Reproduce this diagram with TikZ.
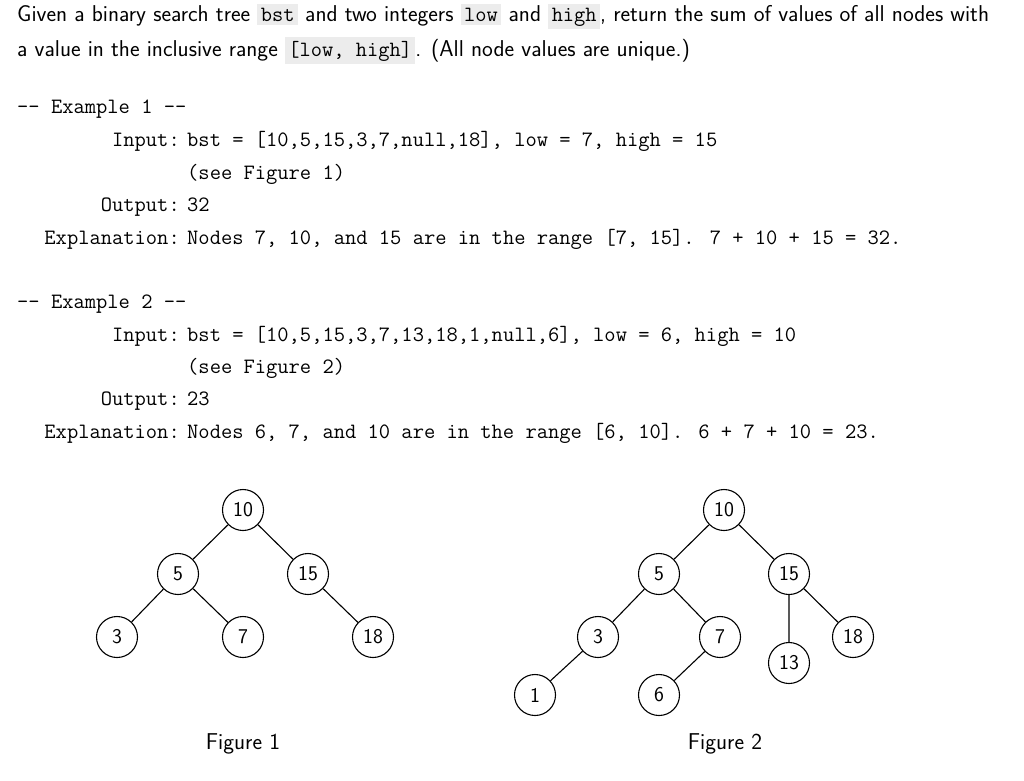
\documentclass[tikz,border=0pt]{standalone}
\usepackage{xcolor}
\definecolor{hlgray}{RGB}{236,236,236}
\newcommand{\hlc}[1]{{\setlength{\fboxsep}{3.5pt}\colorbox{hlgray}{\ttfamily\fontsize{21.8}{24}\selectfont #1}}}
\begin{document}
\begin{tikzpicture}[x=1pt,y=-1pt,
  txt/.style={anchor=base west,inner sep=0pt,font=\sffamily\fontsize{22.9}{26}\selectfont},
  mono/.style={anchor=base west,inner sep=0pt,font=\ttfamily\fontsize{21.9}{24}\selectfont},
  lab/.style={anchor=base east,inner sep=0pt,font=\ttfamily\fontsize{21.9}{24}\selectfont},
  tn/.style={circle,draw,line width=1.1pt,minimum size=41pt,inner sep=0pt,font=\sffamily\fontsize{21}{24}\selectfont},
  edge/.style={line width=1.1pt}]
\useasboundingbox (0,0) rectangle (1024,780);
\node[txt] (t1) at (17,21) {Given a binary search tree \hlc{bst} and two integers \hlc{low} and \hlc{high}, return the sum of values of all nodes with};
\node[txt] (t2) at (17,56) {a value in the inclusive range \hlc{[low, high]}. (All node values are unique.)};

\node[mono] (e1) at (17,113) {-- Example 1 --};
\node[lab] (i1) at (180,146) {Input:};
\node[mono] (i1v) at (187,146) {bst = [10,5,15,3,7,null,18], low = 7, high = 15};
\node[mono] (s1) at (187,179) {(see Figure 1)};
\node[lab] (o1) at (180,211) {Output:};
\node[mono] (o1v) at (187,211) {32};
\node[lab] (x1) at (180,244) {Explanation:};
\node[mono] (x1v) at (187,244) {Nodes 7, 10, and 15 are in the range [7, 15]. 7 + 10 + 15 = 32.};

\node[mono] (e2) at (17,308) {-- Example 2 --};
\node[lab] (i2) at (180,341) {Input:};
\node[mono] (i2v) at (187,341) {bst = [10,5,15,3,7,13,18,1,null,6], low = 6, high = 10};
\node[mono] (s2) at (187,373) {(see Figure 2)};
\node[lab] (o2) at (180,405) {Output:};
\node[mono] (o2v) at (187,405) {23};
\node[lab] (x2) at (180,438) {Explanation:};
\node[mono] (x2v) at (187,438) {Nodes 6, 7, and 10 are in the range [6, 10]. 6 + 7 + 10 = 23.};

% Figure 1
\node[tn] (a10) at (243,510) {10};
\node[tn] (a5) at (178,574) {5};
\node[tn] (a15) at (308,574) {15};
\node[tn] (a3) at (117,637) {3};
\node[tn] (a7) at (243,637) {7};
\node[tn] (a18) at (373,637) {18};
\draw[edge] (a10)--(a5) (a10)--(a15) (a5)--(a3) (a5)--(a7) (a15)--(a18);
\node[txt,anchor=center] (f1) at (243,744) {Figure 1};

% Figure 2
\node[tn] (b10) at (724,510) {10};
\node[tn] (b5) at (659,574) {5};
\node[tn] (b15) at (789,574) {15};
\node[tn] (b3) at (598,637) {3};
\node[tn] (b7) at (720,637) {7};
\node[tn] (b13) at (789,663) {13};
\node[tn] (b18) at (853,637) {18};
\node[tn] (b1) at (535,695) {1};
\node[tn] (b6) at (659,695) {6};
\draw[edge] (b10)--(b5) (b10)--(b15) (b5)--(b3) (b5)--(b7) (b15)--(b13) (b15)--(b18) (b3)--(b1) (b7)--(b6);
\node[txt,anchor=center] (f2) at (725,744) {Figure 2};
\end{tikzpicture}
\end{document}
